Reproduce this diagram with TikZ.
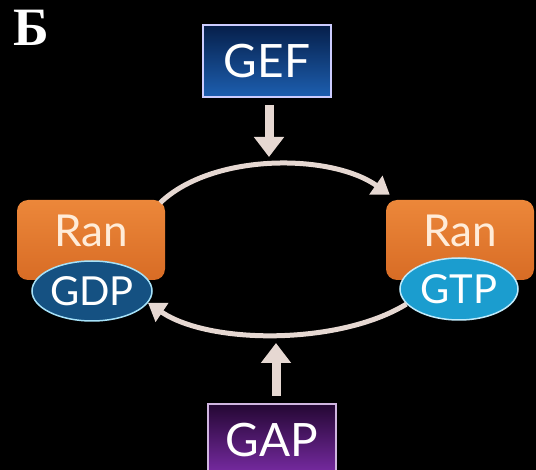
\documentclass[tikz,border=0pt]{standalone}
\usepackage{fontspec}
\setmainfont{Lato}
\newfontfamily\cyrfont{Liberation Serif}
\usetikzlibrary{arrows.meta,positioning,shapes.geometric}

\definecolor{pale}{HTML}{E6D8D2}
\definecolor{navy}{HTML}{061F4A}
\definecolor{gefblue}{HTML}{1D5FB0}
\definecolor{plum}{HTML}{240733}
\definecolor{violet}{HTML}{7A2CA6}
\definecolor{ranorange}{HTML}{EC873A}
\definecolor{randark}{HTML}{D86C25}
\definecolor{gdpblue}{HTML}{155182}
\definecolor{gtpblue}{HTML}{1B9DCF}

\begin{document}
\begin{tikzpicture}[
		x=1pt, y=-1pt,
		>={Triangle[width=22pt,length=17pt]},
		cycle/.style={draw=pale, line width=5pt, ->},
		push/.style={draw=pale, line width=9pt, -{Triangle[width=29pt,length=20pt]}},
		factor/.style={draw=#1, line width=2pt, minimum width=128pt,
			minimum height=72pt, inner sep=0pt, text=white,
			font=\fontsize{46}{50}\selectfont},
		ranbox/.style={rounded corners=11pt, top color=ranorange, bottom color=randark,
			minimum width=148pt, minimum height=80pt},
		rantext/.style={text=white!85!orange, font=\fontsize{44}{48}\selectfont},
		nucleotide/.style={ellipse, draw=#1, line width=1.5pt, inner sep=0pt,
			text=white, font=\fontsize{40}{44}\selectfont}
	]
	% black page
	\fill[black] (0,0) rectangle (536,470);
	\useasboundingbox (0,0) rectangle (536,470);

	\node[text=white, font=\cyrfont\bfseries\fontsize{54}{58}\selectfont] (tag) at (31,28) {Б};

	% exchange factor and activating protein
	\node[factor=blue!20!white, top color=navy, bottom color=gefblue] (gef) at (267,61) {GEF};
	\node[factor=violet!35!white, top color=plum, bottom color=violet] (gap) at (272,440) {GAP};

	% Ran with bound nucleotide
	\node[ranbox] (rangdp) at (91,240) {};
	\node[rantext] (ranl) at ([yshift=9pt]rangdp.center) {Ran};
	\node[nucleotide=cyan!35!white, fill=gdpblue, minimum width=120pt, minimum height=60pt]
		(gdp) at (92,291) {GDP};

	\node[ranbox] (rangtp) at (460,240) {};
	\node[rantext] (ranr) at ([yshift=9pt]rangtp.center) {Ran};
	\node[nucleotide=cyan!25!white, fill=gtpblue, minimum width=118pt, minimum height=62pt]
		(gtp) at (459,289) {GTP};

	% cycle
	\draw[cycle] ([xshift=-5pt,yshift=-3pt]rangdp.north east)
		.. controls (212,153) and (330,153) .. ([xshift=4pt,yshift=5pt]rangtp.north west);
	\draw[cycle] (gtp.196)
		.. controls (340,345) and (210,345) .. (gdp.-12);

	\coordinate (gefhit) at (269,157);
	\coordinate (gaphit) at (276,343);
	\draw[push, shorten <=7pt] (gefhit |- gef.south) -- (gefhit);
	\draw[push, shorten <=7pt] (gaphit |- gap.north) -- (gaphit);
\end{tikzpicture}
\end{document}
